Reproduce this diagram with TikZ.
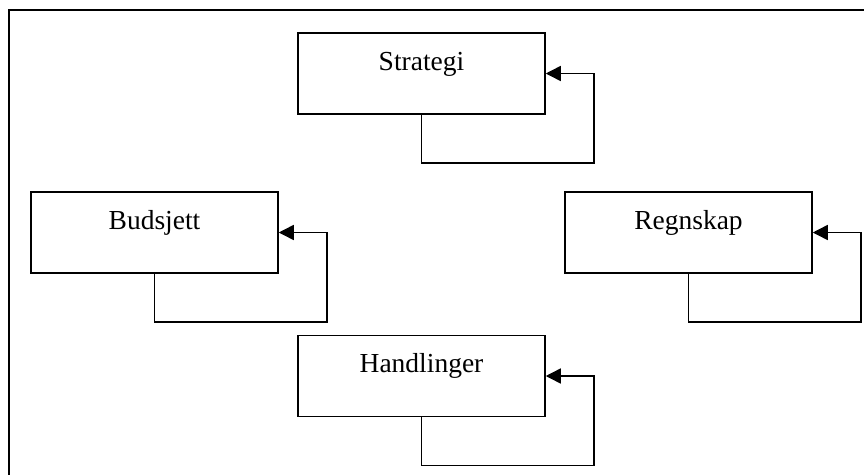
\documentclass[tikz,border=0pt]{standalone}
\usepackage{fontspec}
\setmainfont{Liberation Serif}
\usetikzlibrary{arrows.meta}
\begin{document}
\begin{tikzpicture}[x=1pt,y=-1pt,
  stepbox/.style={draw=black, line width=1.5pt, inner sep=0pt, minimum width=247pt,
    text height=37pt, text depth=44pt, font=\fontsize{27.5}{30}\selectfont},
  loopline/.style={draw=black, line width=1.5pt, -{Triangle[length=15pt,width=15pt]}},
  frameline/.style={draw=black, line width=2pt}]
\useasboundingbox (0,0) rectangle (864,474);
\coordinate (fc) at (9,10);
\coordinate (fr) at (866,10);
\coordinate (fb) at (9,476);
\draw[frameline] (fr) -- (fc) -- (fb);
\node[stepbox] (s) at (421.5,73.5) {Strategi};
\node[stepbox] (b) at (154.5,232.5) {Budsjett};
\node[stepbox] (r) at (688.5,232.5) {Regnskap};
\node[stepbox] (h) at (421.5,376) {Handlinger};
\foreach \n in {s,b,r,h}{
  \draw[loopline] (\n.south) -- ++(0,48) -| ([xshift=48pt]\n.east) -- (\n.east);
}
\end{tikzpicture}
\end{document}
